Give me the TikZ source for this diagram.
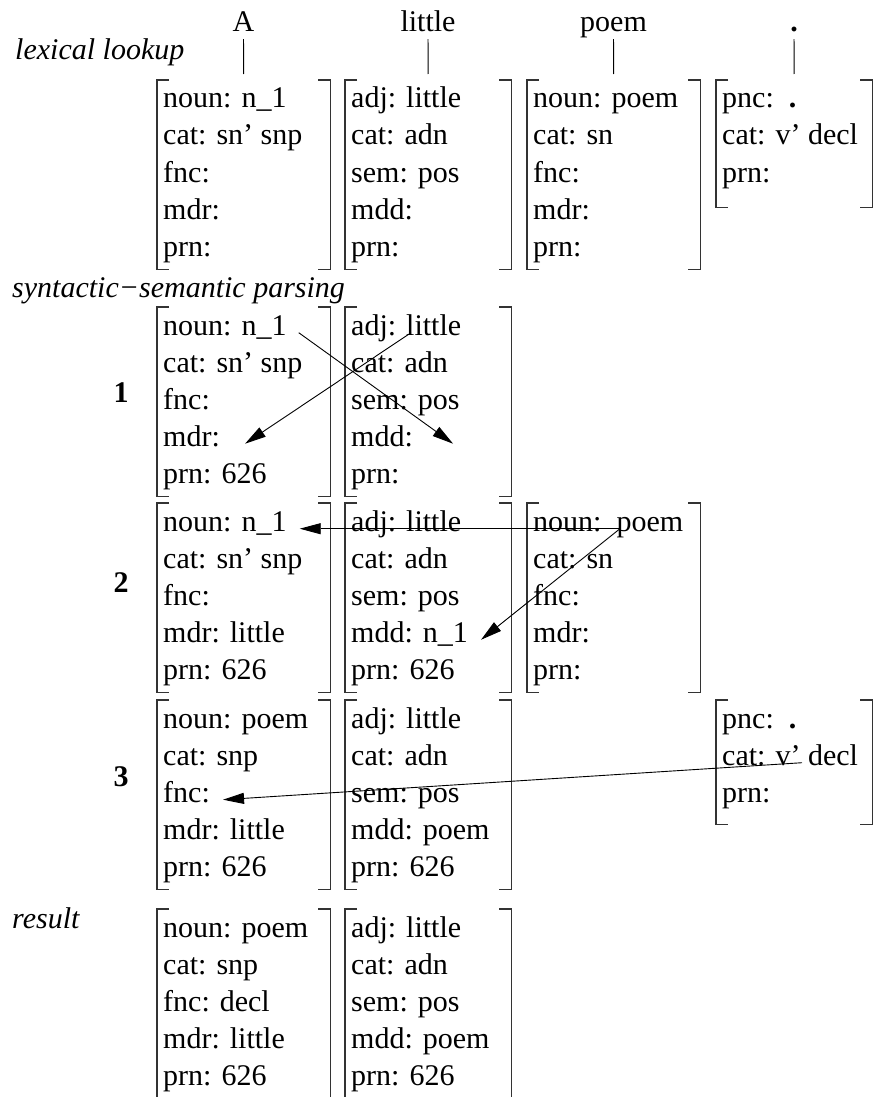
\documentclass[tikz,border=0pt]{standalone}
\usepackage{fontspec}
\setmainfont{Liberation Serif}
\usetikzlibrary{arrows.meta}

\tikzset{
  fs/.style={anchor=north west, inner sep=0pt},
  attr/.style={anchor=base west, inner sep=0pt},
  word/.style={anchor=base, inner sep=0pt, text depth=0pt},
  lbl/.style={anchor=base west, inner sep=0pt, font=\fontsize{30}{36}\selectfont\itshape},
  num/.style={anchor=base, inner sep=0pt, font=\fontsize{30}{36}\selectfont\bfseries},
  brk/.style={draw=black!80, line width=1.1pt},
  tick/.style={line width=0.9pt, shorten <=7pt, shorten >=6pt},
  arr/.style={-{Triangle[length=21pt,width=11pt]}, line width=0.9pt}
}

% name, x, y, width, height, lines
\newcommand{\fstruct}[6]{
  \node[fs, minimum width=#4pt, minimum height=#5pt] (#1) at (#2,#3) {};
  \foreach \attrtxt [count=\idx] in {#6}
    \node[attr] (#1-\idx) at ([xshift=6pt, yshift={-28pt-37pt*(\idx-1)}]#1.north west) {\attrtxt};
  \draw[brk] ([xshift=12pt]#1.north west) -| (#1.south west) -- ++(12pt,0);
  \draw[brk] ([xshift=-12pt]#1.north east) -| (#1.south east) -- ++(-12pt,0);
}

\begin{document}
\begin{tikzpicture}[x=1pt, y=-1pt, font=\fontsize{30}{36}\selectfont]
\useasboundingbox (0,0) rectangle (877,1097);

\node[word] (wA) at (243.5,32) {A};
\node[word] (wLittle) at (428,32) {little};
\node[word] (wPoem) at (613.5,32) {poem};
\node[word] (wPnc) at (794,32) {\textbf{.}};

\node[lbl] (lexical) at (15,60) {lexical lookup};
\node[lbl] (parsing) at (12,297) {syntactic−semantic parsing};
\node[lbl] (result) at (12,928) {result};
\node[num] (n1) at (121,402) {1};
\node[num] (n2) at (121,592) {2};
\node[num] (n3) at (121,786) {3};

\fstruct{lexA}{157}{80}{173}{189}{noun: n\_1, cat: sn' snp, fnc:, mdr:, prn:}
\fstruct{lexB}{345}{80}{166}{189}{adj: little, cat: adn, sem: pos, mdd:, prn:}
\fstruct{lexC}{527}{80}{173}{189}{noun: poem, cat: sn, fnc:, mdr:, prn:}
\fstruct{lexD}{716}{80}{156}{127}{pnc:\ \ \textbf{.}, cat: v' decl, prn:}

\draw[tick] (wA.south) -- (lexA.north);
\draw[tick] (wLittle.south) -- (lexB.north);
\draw[tick] (wPoem.south) -- (lexC.north);
\draw[tick] (wPnc.south) -- (lexD.north);

\fstruct{p1A}{157}{307}{173}{189}{noun: n\_1, cat: sn' snp, fnc:, mdr:, prn: 626}
\fstruct{p1B}{345}{307}{166}{189}{adj: little, cat: adn, sem: pos, mdd:, prn:}

\fstruct{p2A}{157}{503}{173}{189}{noun: n\_1, cat: sn' snp, fnc:, mdr: little, prn: 626}
\fstruct{p2B}{345}{503}{166}{189}{adj: little, cat: adn, sem: pos, mdd: n\_1, prn: 626}
\fstruct{p2C}{527}{503}{173}{189}{noun:\ \ poem, cat: sn, fnc:, mdr:, prn:}

\fstruct{p3A}{157}{700}{173}{189}{noun: poem, cat: snp, fnc:, mdr: little, prn: 626}
\fstruct{p3B}{345}{700}{166}{189}{adj: little, cat: adn, sem: pos, mdd: poem, prn: 626}
\fstruct{p3D}{716}{700}{156}{124}{pnc:\ \ \textbf{.}, cat: v' decl, prn:}

\fstruct{resA}{157}{909}{173}{189}{noun: poem, cat: snp, fnc: decl, mdr: little, prn: 626}
\fstruct{resB}{345}{909}{166}{189}{adj: little, cat: adn, sem: pos, mdd: poem, prn: 626}

\draw[arr] ([xshift=12pt]p1A-1.mid east) -- ([xshift=40pt]p1B-4.mid east);
\draw[arr] ([xshift=60pt]p1B-1.mid west) -- ([xshift=25pt]p1A-4.mid east);
\draw[arr] ([xshift=87pt]p2C-1.mid west) -- ([xshift=13pt]p2A-1.mid east);
\draw[arr] ([xshift=87pt]p2C-1.mid west) -- ([xshift=13pt]p2B-4.mid east);
\draw[arr] ([xshift=80pt]p3D-2.mid west) -- ([xshift=13pt]p3A-3.mid east);
\end{tikzpicture}
\end{document}
